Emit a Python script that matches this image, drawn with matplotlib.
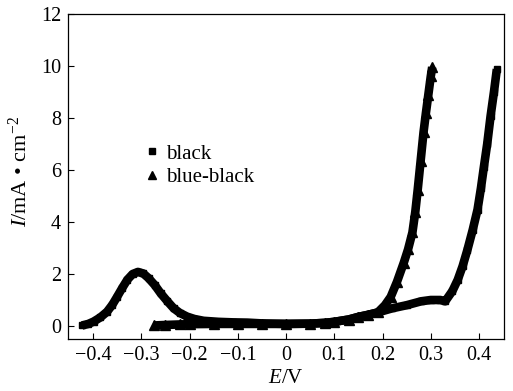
import matplotlib.pyplot as plt
from matplotlib.lines import Line2D

plt.rcParams["font.family"] = ["Liberation Serif", "DejaVu Serif"]
plt.rcParams["mathtext.fontset"] = "custom"
plt.rcParams["mathtext.rm"] = "Liberation Serif"
plt.rcParams["mathtext.it"] = "Liberation Serif:italic"

# black sample (square markers)
e_black = [-0.423, -0.41, -0.399, -0.385, -0.371, -0.36, -0.35, -0.34, -0.329, -0.318,
           -0.307, -0.296, -0.285, -0.272, -0.26, -0.246, -0.233, -0.22, -0.205, -0.19,
           -0.171, -0.14, -0.11, -0.08, -0.05, 0.0, 0.05, 0.08, 0.10, 0.13, 0.15, 0.17,
           0.19, 0.22, 0.25, 0.28, 0.30, 0.32, 0.33, 0.345, 0.356, 0.366, 0.376, 0.387,
           0.397, 0.404, 0.41, 0.417, 0.424, 0.431, 0.437]
i_black = [0.02, 0.08, 0.17, 0.33, 0.55, 0.82, 1.13, 1.45, 1.78, 2.0,
           2.08, 2.02, 1.84, 1.57, 1.26, 0.95, 0.68, 0.5, 0.36, 0.27,
           0.2, 0.16, 0.14, 0.13, 0.1, 0.08, 0.09, 0.12, 0.16, 0.25, 0.35, 0.43,
           0.52, 0.68, 0.8, 0.95, 1.0, 1.0, 0.95, 1.35, 1.78, 2.3, 2.93, 3.7,
           4.48, 5.3, 6.1, 7.0, 8.07, 9.0, 9.88]

# blue-black sample (triangle markers)
e_blue = [-0.274, -0.25, -0.22, -0.20, -0.15, -0.10, -0.05, 0.0, 0.05, 0.08, 0.10,
          0.13, 0.15, 0.17, 0.19, 0.205, 0.217, 0.23, 0.244, 0.253, 0.262, 0.268,
          0.273, 0.279, 0.285, 0.29, 0.295, 0.30, 0.303]
i_blue = [0.02, 0.04, 0.06, 0.07, 0.08, 0.08, 0.08, 0.08, 0.09, 0.12, 0.16,
          0.25, 0.35, 0.43, 0.52, 0.8, 1.12, 1.7, 2.43, 2.95, 3.6, 4.4,
          5.25, 6.35, 7.45, 8.2, 8.9, 9.6, 9.96]

x_ticks = [-0.4, -0.3, -0.2, -0.1, 0, 0.1, 0.2, 0.3, 0.4]
x_labels = ["\u22120.4", "\u22120.3", "\u22120.2", "\u22120.1", "0", "0.1", "0.2", "0.3", "0.4"]
y_ticks = [0, 2, 4, 6, 8, 10, 12]

fig = plt.figure(figsize=(5.13, 3.91), dpi=100)
ax = fig.add_axes([0.1326, 0.133, 0.85, 0.831])

# dense markers in the original merge into a thick band
ax.plot(e_black, i_black, color="black", lw=6.2, marker="s", ms=5,
        solid_capstyle="butt", solid_joinstyle="round")
ax.plot(e_blue, i_blue, color="black", lw=6.2, marker="^", ms=6.5,
        solid_capstyle="butt", solid_joinstyle="round")

ax.set_xlim(-0.452, 0.452)
ax.set_ylim(-0.5, 12)
ax.set_xticks(x_ticks)
ax.set_xticklabels(x_labels)
ax.set_yticks(y_ticks)
ax.tick_params(direction="in", length=4, width=0.8, labelsize=14.5,
               top=False, right=False, pad=5)
for s in ax.spines.values():
    s.set_linewidth(0.9)

ax.set_xlabel(r"$\mathit{E}$/V", fontsize=15, labelpad=3)
ax.set_ylabel(r"$\mathit{I}$/mA • cm$^{-2}$", fontsize=16)
ax.yaxis.set_label_coords(-0.083, 0.514)

handles = [
    Line2D([], [], color="black", marker="s", ls="none", ms=5),
    Line2D([], [], color="black", marker="^", ls="none", ms=6),
]
ax.legend(handles, ["black", "blue-black"], loc="upper left",
          bbox_to_anchor=(0.181, 0.60), frameon=False, fontsize=15,
          handlelength=0.5, handletextpad=0.41, labelspacing=0.2,
          borderpad=0, borderaxespad=0)

fig.savefig("out.png", dpi=100)
